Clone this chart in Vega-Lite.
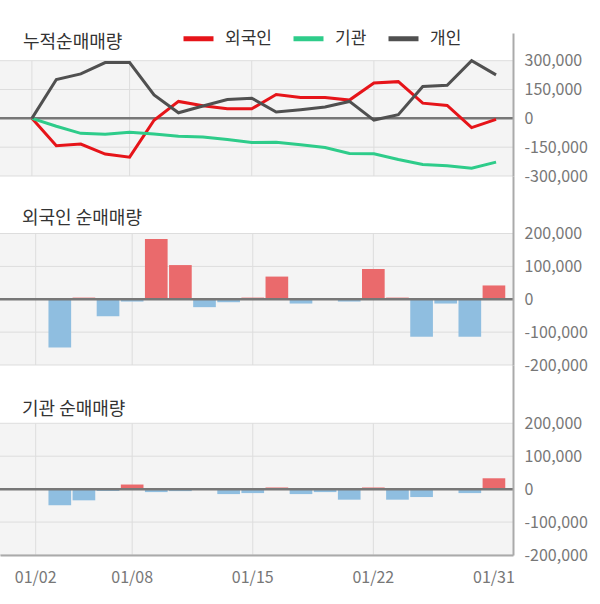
{
  "$schema": "https://vega.github.io/schema/vega-lite/v6.json",
  "padding": {"top": 21, "left": -2, "right": 0, "bottom": 5},
  "background": "white",
  "config": {
    "font": "Noto Sans CJK KR",
    "view": {"stroke": null},
    "axis": {"labelFont": "Noto Sans CJK KR", "labelOverlap": false},
    "title": {"font": "Noto Sans CJK KR", "fontSize": 18, "fontWeight": "normal", "color": "#333333", "anchor": "start", "frame": "group", "offset": 0, "baseline": "alphabetic"}
  },
  "datasets": {
    "cum": [
      {"date": "01/02", "investor": "외국인", "value": 0},
      {"date": "01/03", "investor": "외국인", "value": -143000},
      {"date": "01/06", "investor": "외국인", "value": -134000},
      {"date": "01/07", "investor": "외국인", "value": -186000},
      {"date": "01/08", "investor": "외국인", "value": -202000},
      {"date": "01/09", "investor": "외국인", "value": -10000},
      {"date": "01/10", "investor": "외국인", "value": 88000},
      {"date": "01/13", "investor": "외국인", "value": 66000},
      {"date": "01/14", "investor": "외국인", "value": 50000},
      {"date": "01/15", "investor": "외국인", "value": 50000},
      {"date": "01/16", "investor": "외국인", "value": 124000},
      {"date": "01/17", "investor": "외국인", "value": 109000},
      {"date": "01/20", "investor": "외국인", "value": 109000},
      {"date": "01/21", "investor": "외국인", "value": 95000},
      {"date": "01/22", "investor": "외국인", "value": 184000},
      {"date": "01/23", "investor": "외국인", "value": 191000},
      {"date": "01/28", "investor": "외국인", "value": 79000},
      {"date": "01/29", "investor": "외국인", "value": 67000},
      {"date": "01/30", "investor": "외국인", "value": -48000},
      {"date": "01/31", "investor": "외국인", "value": -5000},
      {"date": "01/02", "investor": "기관", "value": 0},
      {"date": "01/03", "investor": "기관", "value": -41000},
      {"date": "01/06", "investor": "기관", "value": -78000},
      {"date": "01/07", "investor": "기관", "value": -83000},
      {"date": "01/08", "investor": "기관", "value": -72000},
      {"date": "01/09", "investor": "기관", "value": -81000},
      {"date": "01/10", "investor": "기관", "value": -93000},
      {"date": "01/13", "investor": "기관", "value": -97000},
      {"date": "01/14", "investor": "기관", "value": -110000},
      {"date": "01/15", "investor": "기관", "value": -126000},
      {"date": "01/16", "investor": "기관", "value": -124000},
      {"date": "01/17", "investor": "기관", "value": -138000},
      {"date": "01/20", "investor": "기관", "value": -152000},
      {"date": "01/21", "investor": "기관", "value": -183000},
      {"date": "01/22", "investor": "기관", "value": -184000},
      {"date": "01/23", "investor": "기관", "value": -214000},
      {"date": "01/28", "investor": "기관", "value": -240000},
      {"date": "01/29", "investor": "기관", "value": -247000},
      {"date": "01/30", "investor": "기관", "value": -260000},
      {"date": "01/31", "investor": "기관", "value": -228000},
      {"date": "01/02", "investor": "개인", "value": 0},
      {"date": "01/03", "investor": "개인", "value": 202000},
      {"date": "01/06", "investor": "개인", "value": 231000},
      {"date": "01/07", "investor": "개인", "value": 290000},
      {"date": "01/08", "investor": "개인", "value": 290000},
      {"date": "01/09", "investor": "개인", "value": 122000},
      {"date": "01/10", "investor": "개인", "value": 29000},
      {"date": "01/13", "investor": "개인", "value": 64000},
      {"date": "01/14", "investor": "개인", "value": 98000},
      {"date": "01/15", "investor": "개인", "value": 105000},
      {"date": "01/16", "investor": "개인", "value": 33000},
      {"date": "01/17", "investor": "개인", "value": 45000},
      {"date": "01/20", "investor": "개인", "value": 59000},
      {"date": "01/21", "investor": "개인", "value": 88000},
      {"date": "01/22", "investor": "개인", "value": -9000},
      {"date": "01/23", "investor": "개인", "value": 19000},
      {"date": "01/28", "investor": "개인", "value": 166000},
      {"date": "01/29", "investor": "개인", "value": 172000},
      {"date": "01/30", "investor": "개인", "value": 300000},
      {"date": "01/31", "investor": "개인", "value": 226000}
    ],
    "flow": [
      {"date": "01/02", "foreign": 0, "inst": 0},
      {"date": "01/03", "foreign": -147000, "inst": -49000},
      {"date": "01/06", "foreign": 5000, "inst": -34000},
      {"date": "01/07", "foreign": -52000, "inst": -6000},
      {"date": "01/08", "foreign": -7000, "inst": 14000},
      {"date": "01/09", "foreign": 183000, "inst": -9000},
      {"date": "01/10", "foreign": 104000, "inst": -6000},
      {"date": "01/13", "foreign": -24000, "inst": 0},
      {"date": "01/14", "foreign": -9000, "inst": -15000},
      {"date": "01/15", "foreign": 5000, "inst": -12000},
      {"date": "01/16", "foreign": 69000, "inst": 5000},
      {"date": "01/17", "foreign": -13000, "inst": -15000},
      {"date": "01/20", "foreign": 0, "inst": -9000},
      {"date": "01/21", "foreign": -7000, "inst": -32000},
      {"date": "01/22", "foreign": 92000, "inst": 5000},
      {"date": "01/23", "foreign": 5000, "inst": -32000},
      {"date": "01/28", "foreign": -114000, "inst": -24000},
      {"date": "01/29", "foreign": -13000, "inst": 0},
      {"date": "01/30", "foreign": -114000, "inst": -12000},
      {"date": "01/31", "foreign": 42000, "inst": 33000}
    ],
    "grid": [{"date": "01/02"}, {"date": "01/08"}, {"date": "01/15"}, {"date": "01/22"}],
    "hgrid1": [{"v": -300000}, {"v": -150000}, {"v": 150000}, {"v": 300000}],
    "hgrid2": [{"v": -200000}, {"v": -100000}, {"v": 100000}, {"v": 200000}],
    "one": [{}]
  },
  "spacing": 0,
  "bounds": "flush",
  "resolve": {"scale": {"x": "independent", "y": "independent"}},
  "vconcat": [
    {
      "width": 513,
      "height": 143,
      "title": {"text": "누적순매매량", "dx": 23, "dy": 23},
      "layer": [
        {
          "data": {"name": "one"},
          "mark": {"type": "rect", "color": "#f4f4f4"},
          "encoding": {
            "y": {"datum": 300000, "type": "quantitative",
              "scale": {"domain": [-300000, 444000], "nice": false, "zero": false},
              "axis": {"orient": "right", "title": null, "values": [-300000, -150000, 0, 150000, 300000], "tickCount": 20, "grid": false, "ticks": false, "domain": true, "domainColor": "#aaaaaa", "domainWidth": 2, "labelFontSize": 16, "labelColor": "#777777", "labelPadding": 11, "labelOverlap": false, "labelBound": false, "zindex": 1, "labelExpr": "(datum.value < 0 ? '-' : '') + format(abs(datum.value), ',')"}},
            "y2": {"datum": -300000}
          }
        },
        {
          "data": {"name": "hgrid1"},
          "mark": {"type": "rule", "color": "#dddddd", "strokeWidth": 1},
          "encoding": {"y": {"field": "v", "type": "quantitative", "title": null}}
        },
        {
          "data": {"name": "grid"},
          "mark": {"type": "rule", "color": "#dddddd", "strokeWidth": 1},
          "encoding": {
            "x": {"field": "date", "type": "ordinal", "axis": null,
              "scale": {"type": "point", "domain": ["01/02","01/03","01/06","01/07","01/08","01/09","01/10","01/13","01/14","01/15","01/16","01/17","01/20","01/21","01/22","01/23","01/28","01/29","01/30","01/31"], "padding": 1.134, "align": 0.653}},
            "y": {"datum": 300000, "type": "quantitative"},
            "y2": {"datum": -300000}
          }
        },
        {
          "data": {"name": "one"},
          "mark": {"type": "rule", "color": "#777777", "strokeWidth": 2.5},
          "encoding": {"y": {"datum": 0, "type": "quantitative"}}
        },
        {
          "data": {"name": "cum"},
          "mark": {"type": "line", "strokeWidth": 3},
          "encoding": {
            "x": {"field": "date", "type": "ordinal", "axis": null},
            "y": {"field": "value", "type": "quantitative", "title": null},
            "color": {"field": "investor", "type": "nominal",
              "scale": {"domain": ["외국인", "기관", "개인"], "range": ["#e61419", "#2ecc8a", "#505050"]},
              "legend": {"orient": "none", "legendX": 181, "legendY": -12, "direction": "horizontal", "title": null, "symbolType": "stroke", "symbolSize": 900, "symbolStrokeWidth": 5, "labelFontSize": 17, "labelFont": "Noto Sans CJK KR", "labelColor": "#333333", "labelOffset": 9, "columnPadding": 11}}
          }
        }
      ]
    },
    {
      "width": 513,
      "height": 189,
      "title": {"text": "외국인 순매매량", "dx": 22, "dy": 56},
      "layer": [
        {
          "data": {"name": "one"},
          "mark": {"type": "rect", "color": "#f4f4f4"},
          "encoding": {
            "y": {"datum": 200000, "type": "quantitative",
              "scale": {"domain": [-200000, 375000], "nice": false, "zero": false},
              "axis": {"orient": "right", "title": null, "values": [-200000, -100000, 0, 100000, 200000], "tickCount": 20, "grid": false, "ticks": false, "domain": true, "domainColor": "#aaaaaa", "domainWidth": 2, "labelFontSize": 16, "labelColor": "#777777", "labelPadding": 11, "labelOverlap": false, "labelBound": false, "zindex": 1, "labelExpr": "(datum.value < 0 ? '-' : '') + format(abs(datum.value), ',')"}},
            "y2": {"datum": -200000}
          }
        },
        {
          "data": {"name": "hgrid2"},
          "mark": {"type": "rule", "color": "#dddddd", "strokeWidth": 1},
          "encoding": {"y": {"field": "v", "type": "quantitative", "title": null}}
        },
        {
          "data": {"name": "grid"},
          "mark": {"type": "rule", "color": "#dddddd", "strokeWidth": 1},
          "encoding": {
            "x": {"field": "date", "type": "ordinal", "axis": null, "bandPosition": 0.5,
              "scale": {"type": "band", "domain": ["01/02","01/03","01/06","01/07","01/08","01/09","01/10","01/13","01/14","01/15","01/16","01/17","01/20","01/21","01/22","01/23","01/28","01/29","01/30","01/31"], "paddingInner": 0.06, "paddingOuter": 0.665, "align": 0.759}},
            "y": {"datum": 200000, "type": "quantitative"},
            "y2": {"datum": -200000}
          }
        },
        {
          "data": {"name": "flow"},
          "mark": {"type": "bar"},
          "encoding": {
            "x": {"field": "date", "type": "ordinal", "axis": null},
            "y": {"field": "foreign", "type": "quantitative", "title": null},
            "color": {"condition": {"test": "datum.foreign > 0", "value": "#ea6a6c"}, "value": "#8fbee0"}
          }
        },
        {
          "data": {"name": "one"},
          "mark": {"type": "rule", "color": "#777777", "strokeWidth": 2.5},
          "encoding": {"y": {"datum": 0, "type": "quantitative"}}
        }
      ]
    },
    {
      "width": 513,
      "height": 190,
      "title": {"text": "기관 순매매량", "dx": 22, "dy": 58},
      "layer": [
        {
          "data": {"name": "one"},
          "mark": {"type": "rect", "color": "#f4f4f4"},
          "encoding": {
            "y": {"datum": 200000, "type": "quantitative",
              "scale": {"domain": [-200000, 377000], "nice": false, "zero": false},
              "axis": {"orient": "right", "title": null, "values": [-200000, -100000, 0, 100000, 200000], "tickCount": 20, "grid": false, "ticks": false, "domain": true, "domainColor": "#aaaaaa", "domainWidth": 2, "labelFontSize": 16, "labelColor": "#777777", "labelPadding": 11, "labelOverlap": false, "labelBound": false, "zindex": 1, "labelExpr": "(datum.value < 0 ? '-' : '') + format(abs(datum.value), ',')"}},
            "y2": {"datum": -200000}
          }
        },
        {
          "data": {"name": "hgrid2"},
          "mark": {"type": "rule", "color": "#dddddd", "strokeWidth": 1},
          "encoding": {"y": {"field": "v", "type": "quantitative", "title": null}}
        },
        {
          "data": {"name": "grid"},
          "mark": {"type": "rule", "color": "#dddddd", "strokeWidth": 1},
          "encoding": {
            "x": {"field": "date", "type": "ordinal", "title": null, "bandPosition": 0.5,
              "scale": {"type": "band", "domain": ["01/02","01/03","01/06","01/07","01/08","01/09","01/10","01/13","01/14","01/15","01/16","01/17","01/20","01/21","01/22","01/23","01/28","01/29","01/30","01/31"], "paddingInner": 0.06, "paddingOuter": 0.665, "align": 0.759}},
            "y": {"datum": 200000, "type": "quantitative"},
            "y2": {"datum": -200000}
          }
        },
        {
          "data": {"name": "flow"},
          "mark": {"type": "bar"},
          "encoding": {
            "x": {"field": "date", "type": "ordinal",
              "axis": {"values": ["01/02", "01/08", "01/15", "01/22", "01/31"], "title": null, "labelAngle": 0, "bandPosition": 0.5, "labelAlign": "center", "labelBaseline": "top", "grid": false, "ticks": false, "domain": true, "domainColor": "#aaaaaa", "domainWidth": 2, "labelFontSize": 16, "labelColor": "#777777", "labelPadding": 14, "zindex": 1}},
            "y": {"field": "inst", "type": "quantitative", "title": null},
            "color": {"condition": {"test": "datum.inst > 0", "value": "#ea6a6c"}, "value": "#8fbee0"}
          }
        },
        {
          "data": {"name": "one"},
          "mark": {"type": "rule", "color": "#777777", "strokeWidth": 2.5},
          "encoding": {"y": {"datum": 0, "type": "quantitative"}}
        }
      ]
    }
  ]
}
